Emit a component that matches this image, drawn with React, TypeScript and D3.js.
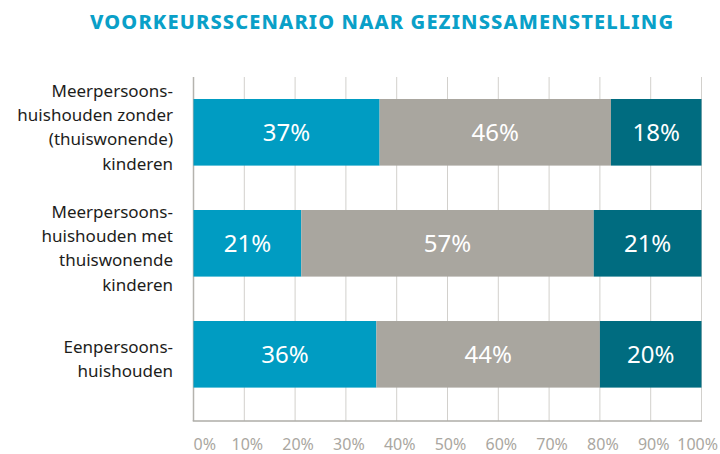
import React from "react";
import * as d3 from "d3";

const title = "VOORKEURSSCENARIO NAAR GEZINSSAMENSTELLING";
const categories = [
  ["Meerpersoons-", "huishouden zonder", "(thuiswonende)", "kinderen"],
  ["Meerpersoons-", "huishouden met", "thuiswonende", "kinderen"],
  ["Eenpersoons-", "huishouden"],
];
const seriesKeys = ["a", "b", "c"];
const seriesA = [37, 21, 36];
const seriesB = [46, 57, 44];
const seriesC = [18, 21, 20];
const tickValues = [0, 0.1, 0.2, 0.3, 0.4, 0.5, 0.6, 0.7, 0.8, 0.9, 1];
const colors = ["#009cc2", "#a9a69f", "#006c80"];
const labelShift = [-5, 5, 5];

const W = 720;
const H = 454;
const FONT = "'Noto Sans', 'Open Sans', sans-serif";

export default function App() {
  const rows = categories.map((c, i) => ({
    idx: i,
    a: seriesA[i],
    b: seriesB[i],
    c: seriesC[i],
  }));
  const stack = d3.stack<any>().keys(seriesKeys).offset(d3.stackOffsetExpand);
  const layers = stack(rows);

  const x = d3.scaleLinear().domain([0, 1]).range([193.5, 701.5]);
  const y = d3
    .scaleBand<number>()
    .domain(rows.map((r) => r.idx))
    .range([76.8, 409.8])
    .paddingInner(0.4)
    .paddingOuter(0.2);

  const gridTop = 77;
  const gridBottom = 421;
  const lineH = 24.3;
  const fmt = d3.format(".0%");

  return (
    <svg
      width={W}
      height={H}
      style={{ position: "absolute", left: 0, top: 0, display: "block" }}
      fontFamily={FONT}
    >
      <rect width={W} height={H} fill="#fff" />
      <text
        x={90}
        y={29}
        fontSize={20}
        fontWeight={800}
        fill="#0aa0c8"
        textLength={583}
        lengthAdjust="spacing"
      >
        {title}
      </text>

      {tickValues.map((t, i) => (
        <line
          key={"g" + i}
          x1={x(t)}
          x2={x(t)}
          y1={gridTop}
          y2={gridBottom}
          stroke={i === 0 ? "#b5b3ae" : "#d2d0cc"}
          strokeWidth={i === 0 ? 1.5 : 1}
        />
      ))}
      <line
        x1={x(0) - 0.75}
        x2={x(1) + 0.5}
        y1={gridBottom}
        y2={gridBottom}
        stroke="#aeaca7"
        strokeWidth={1.5}
      />

      {layers.map((layer, li) =>
        layer.map((d, i) => {
          const x0 = x(d[0]);
          const x1 = x(d[1]);
          const yy = y(i)!;
          const val = [seriesA, seriesB, seriesC][li][i];
          return (
            <g key={li + "-" + i}>
              <rect
                x={x0}
                y={yy}
                width={x1 - x0}
                height={y.bandwidth()}
                fill={colors[li]}
              />
              <text
                x={(x0 + x1) / 2}
                y={yy + y.bandwidth() / 2 + 8.5}
                textAnchor="middle"
                fontSize={24}
                fill="#fff"
              >
                {val + "%"}
              </text>
            </g>
          );
        })
      )}

      {categories.map((lines, i) => {
        const cy = y(i)! + y.bandwidth() / 2 + labelShift[i];
        const first = cy - ((lines.length - 1) * lineH) / 2 + 6;
        return (
          <text key={"c" + i} fontSize={17} fill="#1d1d1b" textAnchor="end">
            {lines.map((l, j) => (
              <tspan key={j} x={173} y={first + j * lineH}>
                {l}
              </tspan>
            ))}
          </text>
        );
      })}

      {tickValues.map((t, i) => {
        const last = i === tickValues.length - 1;
        const anchor = i === 0 ? "start" : last ? "end" : "middle";
        const tx = i === 0 ? x(t) : last ? 718 : x(t) + 3;
        return (
          <text
            key={"t" + i}
            x={tx}
            y={450}
            fontSize={16}
            fill="#aaa7a1"
            textAnchor={anchor}
          >
            {fmt(t)}
          </text>
        );
      })}
    </svg>
  );
}
